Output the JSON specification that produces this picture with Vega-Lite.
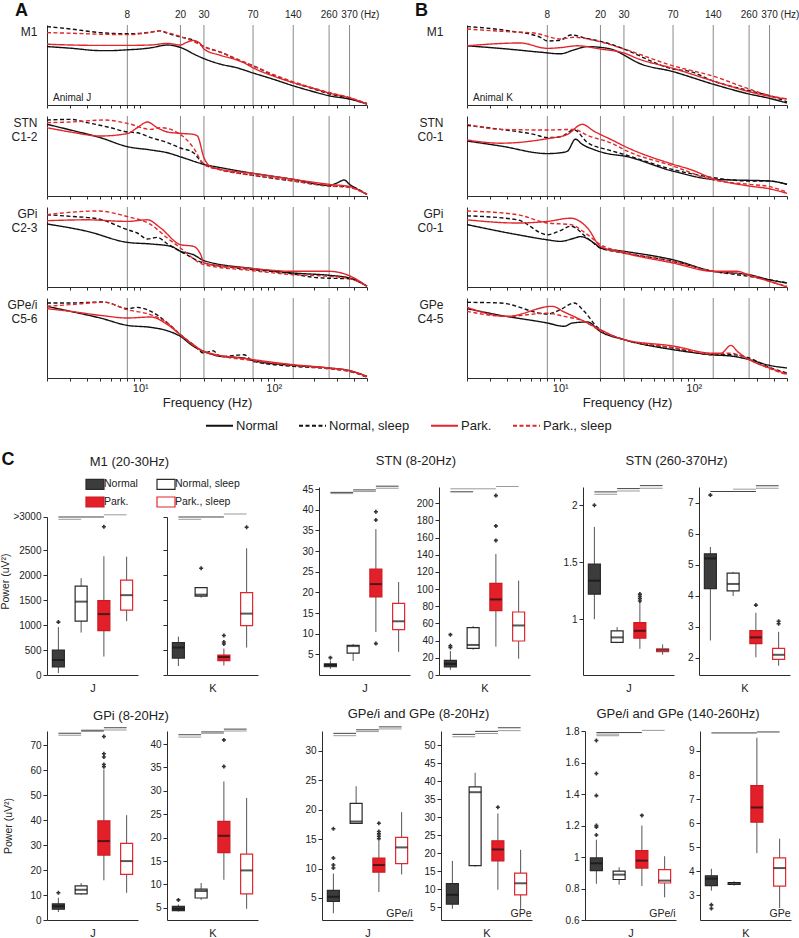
{
"$schema":"https://vega.github.io/schema/vega-lite/v6.json",
"padding":{"left":0,"top":2,"right":0,"bottom":0},
"config":{"font":"Liberation Sans","view":{"stroke":null},"axis":{"domainColor":"#2b2b2b","tickColor":"#2b2b2b","labelColor":"#222","titleColor":"#222","grid":false,"titleFontWeight":"normal","labelOverlap":false},"axisY":{"labelOverlap":false},"title":{"fontWeight":"normal","color":"#222"},"legend":{"labelColor":"#222"}},
"datasets":{
"vl":[{"f":8,"t":"8"},{"f":20,"t":"20"},{"f":30,"t":"30"},{"f":70,"t":"70"},{"f":140,"t":"140"},{"f":260,"t":"260"},{"f":370,"t":"370"}],
"spec":[
{"p":"J1","s":"N","f":2,"v":73},{"p":"J1","s":"N","f":3,"v":71},{"p":"J1","s":"N","f":5,"v":68},{"p":"J1","s":"N","f":6,"v":68},{"p":"J1","s":"N","f":8,"v":69},{"p":"J1","s":"N","f":10,"v":70},{"p":"J1","s":"N","f":12,"v":71.5},{"p":"J1","s":"N","f":16,"v":75},{"p":"J1","s":"N","f":18,"v":74},{"p":"J1","s":"N","f":20,"v":72},{"p":"J1","s":"N","f":22,"v":69},{"p":"J1","s":"N","f":25,"v":64},{"p":"J1","s":"N","f":30,"v":58},{"p":"J1","s":"N","f":40,"v":51},{"p":"J1","s":"N","f":53,"v":46.5},{"p":"J1","s":"N","f":70,"v":40},{"p":"J1","s":"N","f":100,"v":32},{"p":"J1","s":"N","f":140,"v":24},{"p":"J1","s":"N","f":200,"v":16.5},{"p":"J1","s":"N","f":260,"v":11.5},{"p":"J1","s":"N","f":370,"v":7.4},{"p":"J1","s":"N","f":500,"v":1.2},
{"p":"J1","s":"NS","f":2,"v":98},{"p":"J1","s":"NS","f":3,"v":95},{"p":"J1","s":"NS","f":5,"v":90.5},{"p":"J1","s":"NS","f":8,"v":89},{"p":"J1","s":"NS","f":12,"v":91},{"p":"J1","s":"NS","f":14,"v":92.6},{"p":"J1","s":"NS","f":16,"v":89.7},{"p":"J1","s":"NS","f":20,"v":85},{"p":"J1","s":"NS","f":25,"v":81},{"p":"J1","s":"NS","f":30,"v":73},{"p":"J1","s":"NS","f":40,"v":66},{"p":"J1","s":"NS","f":53,"v":57},{"p":"J1","s":"NS","f":70,"v":49},{"p":"J1","s":"NS","f":100,"v":37},{"p":"J1","s":"NS","f":140,"v":28},{"p":"J1","s":"NS","f":200,"v":20},{"p":"J1","s":"NS","f":260,"v":14},{"p":"J1","s":"NS","f":370,"v":8},{"p":"J1","s":"NS","f":500,"v":2},
{"p":"J1","s":"P","f":2,"v":76},{"p":"J1","s":"P","f":3,"v":75},{"p":"J1","s":"P","f":5,"v":74.5},{"p":"J1","s":"P","f":8,"v":74.5},{"p":"J1","s":"P","f":12,"v":75},{"p":"J1","s":"P","f":16,"v":77},{"p":"J1","s":"P","f":20,"v":75},{"p":"J1","s":"P","f":22,"v":78},{"p":"J1","s":"P","f":25,"v":80.6},{"p":"J1","s":"P","f":28,"v":77},{"p":"J1","s":"P","f":30,"v":70},{"p":"J1","s":"P","f":40,"v":62},{"p":"J1","s":"P","f":50,"v":57.6},{"p":"J1","s":"P","f":60,"v":52.7},{"p":"J1","s":"P","f":70,"v":46.5},{"p":"J1","s":"P","f":100,"v":36},{"p":"J1","s":"P","f":140,"v":28},{"p":"J1","s":"P","f":200,"v":20.6},{"p":"J1","s":"P","f":260,"v":15},{"p":"J1","s":"P","f":370,"v":9},{"p":"J1","s":"P","f":500,"v":1},
{"p":"J1","s":"PS","f":2,"v":90.5},{"p":"J1","s":"PS","f":3,"v":89.7},{"p":"J1","s":"PS","f":5,"v":88.5},{"p":"J1","s":"PS","f":8,"v":88},{"p":"J1","s":"PS","f":12,"v":91},{"p":"J1","s":"PS","f":14,"v":93},{"p":"J1","s":"PS","f":16,"v":90.5},{"p":"J1","s":"PS","f":20,"v":85.6},{"p":"J1","s":"PS","f":25,"v":79.4},{"p":"J1","s":"PS","f":30,"v":73},{"p":"J1","s":"PS","f":40,"v":66},{"p":"J1","s":"PS","f":53,"v":57.6},{"p":"J1","s":"PS","f":70,"v":49},{"p":"J1","s":"PS","f":100,"v":38},{"p":"J1","s":"PS","f":140,"v":29},{"p":"J1","s":"PS","f":200,"v":21},{"p":"J1","s":"PS","f":260,"v":15.6},{"p":"J1","s":"PS","f":370,"v":9.5},{"p":"J1","s":"PS","f":500,"v":1.6},
{"p":"J2","s":"N","f":2,"v":89.6},{"p":"J2","s":"N","f":3,"v":82.5},{"p":"J2","s":"N","f":5,"v":73},{"p":"J2","s":"N","f":8,"v":61.7},{"p":"J2","s":"N","f":12,"v":57.5},{"p":"J2","s":"N","f":16,"v":54},{"p":"J2","s":"N","f":20,"v":49},{"p":"J2","s":"N","f":30,"v":39.6},{"p":"J2","s":"N","f":40,"v":35.4},{"p":"J2","s":"N","f":70,"v":28.3},{"p":"J2","s":"N","f":140,"v":20.8},{"p":"J2","s":"N","f":260,"v":13.3},{"p":"J2","s":"N","f":300,"v":16.5},{"p":"J2","s":"N","f":337,"v":20},{"p":"J2","s":"N","f":370,"v":14.6},{"p":"J2","s":"N","f":425,"v":8.3},{"p":"J2","s":"N","f":500,"v":2},
{"p":"J2","s":"NS","f":2,"v":95},{"p":"J2","s":"NS","f":3,"v":95.8},{"p":"J2","s":"NS","f":4,"v":91.7},{"p":"J2","s":"NS","f":6,"v":85.4},{"p":"J2","s":"NS","f":8,"v":80},{"p":"J2","s":"NS","f":9.5,"v":79},{"p":"J2","s":"NS","f":12,"v":73},{"p":"J2","s":"NS","f":16,"v":66.7},{"p":"J2","s":"NS","f":20,"v":60},{"p":"J2","s":"NS","f":25,"v":54},{"p":"J2","s":"NS","f":30,"v":39.6},{"p":"J2","s":"NS","f":40,"v":33},{"p":"J2","s":"NS","f":70,"v":25.8},{"p":"J2","s":"NS","f":140,"v":18.75},{"p":"J2","s":"NS","f":260,"v":12.5},{"p":"J2","s":"NS","f":370,"v":11.7},{"p":"J2","s":"NS","f":500,"v":2},
{"p":"J2","s":"P","f":2,"v":85.4},{"p":"J2","s":"P","f":3,"v":80},{"p":"J2","s":"P","f":5,"v":75},{"p":"J2","s":"P","f":8,"v":78},{"p":"J2","s":"P","f":9.5,"v":85.4},{"p":"J2","s":"P","f":11.3,"v":92.5},{"p":"J2","s":"P","f":13.4,"v":85.4},{"p":"J2","s":"P","f":16,"v":80},{"p":"J2","s":"P","f":20,"v":78.3},{"p":"J2","s":"P","f":25,"v":77},{"p":"J2","s":"P","f":26.8,"v":75},{"p":"J2","s":"P","f":30,"v":48},{"p":"J2","s":"P","f":33.7,"v":36.7},{"p":"J2","s":"P","f":40,"v":33.3},{"p":"J2","s":"P","f":70,"v":28.3},{"p":"J2","s":"P","f":140,"v":20.8},{"p":"J2","s":"P","f":260,"v":14.6},{"p":"J2","s":"P","f":370,"v":11.7},{"p":"J2","s":"P","f":500,"v":2},
{"p":"J2","s":"PS","f":2,"v":91.7},{"p":"J2","s":"PS","f":3,"v":92.5},{"p":"J2","s":"PS","f":5.35,"v":95},{"p":"J2","s":"PS","f":8,"v":90.8},{"p":"J2","s":"PS","f":12,"v":83.3},{"p":"J2","s":"PS","f":14.2,"v":85.4},{"p":"J2","s":"PS","f":20,"v":77},{"p":"J2","s":"PS","f":25,"v":60.4},{"p":"J2","s":"PS","f":30,"v":39.6},{"p":"J2","s":"PS","f":40,"v":32.5},{"p":"J2","s":"PS","f":70,"v":25.8},{"p":"J2","s":"PS","f":140,"v":18.75},{"p":"J2","s":"PS","f":260,"v":12.5},{"p":"J2","s":"PS","f":370,"v":10.4},{"p":"J2","s":"PS","f":500,"v":2},
{"p":"J3","s":"N","f":2,"v":78.75},{"p":"J3","s":"N","f":4,"v":69.6},{"p":"J3","s":"N","f":8,"v":55.8},{"p":"J3","s":"N","f":12,"v":53.75},{"p":"J3","s":"N","f":17,"v":50.8},{"p":"J3","s":"N","f":20,"v":44.6},{"p":"J3","s":"N","f":25,"v":40.4},{"p":"J3","s":"N","f":30,"v":33},{"p":"J3","s":"N","f":70,"v":23},{"p":"J3","s":"N","f":140,"v":17.5},{"p":"J3","s":"N","f":260,"v":14.6},{"p":"J3","s":"N","f":370,"v":11.25},{"p":"J3","s":"N","f":500,"v":1},
{"p":"J3","s":"NS","f":2,"v":90.4},{"p":"J3","s":"NS","f":3,"v":88.3},{"p":"J3","s":"NS","f":4.77,"v":85.4},{"p":"J3","s":"NS","f":8,"v":71.7},{"p":"J3","s":"NS","f":9.5,"v":67.5},{"p":"J3","s":"NS","f":11.3,"v":60},{"p":"J3","s":"NS","f":13.4,"v":62},{"p":"J3","s":"NS","f":16,"v":53.75},{"p":"J3","s":"NS","f":20,"v":44.6},{"p":"J3","s":"NS","f":30,"v":30},{"p":"J3","s":"NS","f":70,"v":21.7},{"p":"J3","s":"NS","f":140,"v":16.25},{"p":"J3","s":"NS","f":200,"v":12},{"p":"J3","s":"NS","f":260,"v":11},{"p":"J3","s":"NS","f":370,"v":10.4},{"p":"J3","s":"NS","f":500,"v":1},
{"p":"J3","s":"P","f":2,"v":82.9},{"p":"J3","s":"P","f":4,"v":84},{"p":"J3","s":"P","f":8,"v":82},{"p":"J3","s":"P","f":11.3,"v":84},{"p":"J3","s":"P","f":14.2,"v":73.75},{"p":"J3","s":"P","f":20,"v":52.9},{"p":"J3","s":"P","f":25,"v":50.8},{"p":"J3","s":"P","f":28.4,"v":40.4},{"p":"J3","s":"P","f":30,"v":30},{"p":"J3","s":"P","f":70,"v":23},{"p":"J3","s":"P","f":140,"v":19.6},{"p":"J3","s":"P","f":260,"v":19.6},{"p":"J3","s":"P","f":370,"v":14},{"p":"J3","s":"P","f":500,"v":1},
{"p":"J3","s":"PS","f":2,"v":90.4},{"p":"J3","s":"PS","f":4.77,"v":95},{"p":"J3","s":"PS","f":8,"v":88},{"p":"J3","s":"PS","f":12,"v":78},{"p":"J3","s":"PS","f":16,"v":61},{"p":"J3","s":"PS","f":20,"v":48.75},{"p":"J3","s":"PS","f":30,"v":28},{"p":"J3","s":"PS","f":70,"v":20.4},{"p":"J3","s":"PS","f":140,"v":15.4},{"p":"J3","s":"PS","f":260,"v":13.3},{"p":"J3","s":"PS","f":370,"v":10.4},{"p":"J3","s":"PS","f":500,"v":1},
{"p":"J4","s":"N","f":2,"v":89.6},{"p":"J4","s":"N","f":3,"v":83.3},{"p":"J4","s":"N","f":5,"v":75},{"p":"J4","s":"N","f":8,"v":65.8},{"p":"J4","s":"N","f":12,"v":63.3},{"p":"J4","s":"N","f":16,"v":59},{"p":"J4","s":"N","f":20,"v":52},{"p":"J4","s":"N","f":25,"v":39.6},{"p":"J4","s":"N","f":30,"v":33.3},{"p":"J4","s":"N","f":40,"v":27},{"p":"J4","s":"N","f":60,"v":25},{"p":"J4","s":"N","f":70,"v":21.7},{"p":"J4","s":"N","f":140,"v":15.8},{"p":"J4","s":"N","f":260,"v":12.5},{"p":"J4","s":"N","f":370,"v":9.2},{"p":"J4","s":"N","f":500,"v":2},
{"p":"J4","s":"NS","f":2,"v":93.75},{"p":"J4","s":"NS","f":3,"v":93.75},{"p":"J4","s":"NS","f":5.35,"v":95},{"p":"J4","s":"NS","f":8,"v":86.7},{"p":"J4","s":"NS","f":9.5,"v":88.3},{"p":"J4","s":"NS","f":12,"v":83.3},{"p":"J4","s":"NS","f":16,"v":68.75},{"p":"J4","s":"NS","f":20,"v":54},{"p":"J4","s":"NS","f":25,"v":41.7},{"p":"J4","s":"NS","f":30,"v":31.25},{"p":"J4","s":"NS","f":35,"v":34},{"p":"J4","s":"NS","f":40,"v":27},{"p":"J4","s":"NS","f":60,"v":29},{"p":"J4","s":"NS","f":70,"v":20.8},{"p":"J4","s":"NS","f":140,"v":14.6},{"p":"J4","s":"NS","f":260,"v":11.7},{"p":"J4","s":"NS","f":370,"v":8.3},{"p":"J4","s":"NS","f":500,"v":1},
{"p":"J4","s":"P","f":2,"v":86.7},{"p":"J4","s":"P","f":3,"v":83.3},{"p":"J4","s":"P","f":5,"v":78.3},{"p":"J4","s":"P","f":8,"v":75},{"p":"J4","s":"P","f":12,"v":76.25},{"p":"J4","s":"P","f":16,"v":66.7},{"p":"J4","s":"P","f":20,"v":54},{"p":"J4","s":"P","f":25,"v":41.7},{"p":"J4","s":"P","f":30,"v":33.3},{"p":"J4","s":"P","f":70,"v":23},{"p":"J4","s":"P","f":140,"v":16.7},{"p":"J4","s":"P","f":260,"v":12.5},{"p":"J4","s":"P","f":370,"v":9.2},{"p":"J4","s":"P","f":500,"v":2},
{"p":"J4","s":"PS","f":2,"v":89.6},{"p":"J4","s":"PS","f":3,"v":91.7},{"p":"J4","s":"PS","f":5.35,"v":94.6},{"p":"J4","s":"PS","f":8,"v":85.4},{"p":"J4","s":"PS","f":12,"v":79},{"p":"J4","s":"PS","f":16,"v":68.75},{"p":"J4","s":"PS","f":20,"v":54},{"p":"J4","s":"PS","f":25,"v":40.8},{"p":"J4","s":"PS","f":30,"v":32.5},{"p":"J4","s":"PS","f":70,"v":21.7},{"p":"J4","s":"PS","f":140,"v":15.8},{"p":"J4","s":"PS","f":260,"v":11.7},{"p":"J4","s":"PS","f":370,"v":8.3},{"p":"J4","s":"PS","f":500,"v":1.2},
{"p":"K1","s":"N","f":2,"v":74},{"p":"K1","s":"N","f":4,"v":70},{"p":"K1","s":"N","f":7.1,"v":66},{"p":"K1","s":"N","f":10,"v":64},{"p":"K1","s":"N","f":12.7,"v":69},{"p":"K1","s":"N","f":16,"v":73},{"p":"K1","s":"N","f":20,"v":72},{"p":"K1","s":"N","f":25,"v":69},{"p":"K1","s":"N","f":30,"v":62.5},{"p":"K1","s":"N","f":38,"v":53},{"p":"K1","s":"N","f":70,"v":41.7},{"p":"K1","s":"N","f":140,"v":26},{"p":"K1","s":"N","f":260,"v":13.75},{"p":"K1","s":"N","f":370,"v":8.3},{"p":"K1","s":"N","f":500,"v":2.5},
{"p":"K1","s":"NS","f":2,"v":98},{"p":"K1","s":"NS","f":4,"v":93},{"p":"K1","s":"NS","f":7.1,"v":84.6},{"p":"K1","s":"NS","f":8,"v":80},{"p":"K1","s":"NS","f":10,"v":81},{"p":"K1","s":"NS","f":12,"v":87.5},{"p":"K1","s":"NS","f":16,"v":83},{"p":"K1","s":"NS","f":20,"v":79.6},{"p":"K1","s":"NS","f":25,"v":75},{"p":"K1","s":"NS","f":30,"v":70},{"p":"K1","s":"NS","f":70,"v":45},{"p":"K1","s":"NS","f":95,"v":41.7},{"p":"K1","s":"NS","f":140,"v":30},{"p":"K1","s":"NS","f":260,"v":18},{"p":"K1","s":"NS","f":370,"v":11.7},{"p":"K1","s":"NS","f":500,"v":4},
{"p":"K1","s":"P","f":2,"v":74},{"p":"K1","s":"P","f":5,"v":77.5},{"p":"K1","s":"P","f":8,"v":70.8},{"p":"K1","s":"P","f":10,"v":71.7},{"p":"K1","s":"P","f":13.4,"v":74},{"p":"K1","s":"P","f":20,"v":70},{"p":"K1","s":"P","f":30,"v":65},{"p":"K1","s":"P","f":38,"v":58},{"p":"K1","s":"P","f":70,"v":45.8},{"p":"K1","s":"P","f":140,"v":30},{"p":"K1","s":"P","f":260,"v":16.7},{"p":"K1","s":"P","f":370,"v":10.8},{"p":"K1","s":"P","f":500,"v":7.5},
{"p":"K1","s":"PS","f":2,"v":95},{"p":"K1","s":"PS","f":4,"v":91.7},{"p":"K1","s":"PS","f":6.35,"v":90},{"p":"K1","s":"PS","f":10,"v":82.5},{"p":"K1","s":"PS","f":12.7,"v":84.6},{"p":"K1","s":"PS","f":20,"v":79},{"p":"K1","s":"PS","f":30,"v":70},{"p":"K1","s":"PS","f":70,"v":49},{"p":"K1","s":"PS","f":140,"v":36},{"p":"K1","s":"PS","f":260,"v":20},{"p":"K1","s":"PS","f":370,"v":11.7},{"p":"K1","s":"PS","f":500,"v":7.5},
{"p":"K2","s":"N","f":2,"v":68.75},{"p":"K2","s":"N","f":3.57,"v":62.5},{"p":"K2","s":"N","f":8,"v":53},{"p":"K2","s":"N","f":10,"v":54},{"p":"K2","s":"N","f":11.3,"v":56},{"p":"K2","s":"N","f":13,"v":71},{"p":"K2","s":"N","f":14.6,"v":64.6},{"p":"K2","s":"N","f":17.9,"v":58},{"p":"K2","s":"N","f":22.5,"v":53},{"p":"K2","s":"N","f":30,"v":50},{"p":"K2","s":"N","f":70,"v":31},{"p":"K2","s":"N","f":140,"v":20.8},{"p":"K2","s":"N","f":200,"v":20},{"p":"K2","s":"N","f":370,"v":18.75},{"p":"K2","s":"N","f":500,"v":14.6},
{"p":"K2","s":"NS","f":2,"v":88.3},{"p":"K2","s":"NS","f":3.57,"v":83.3},{"p":"K2","s":"NS","f":6.35,"v":77},{"p":"K2","s":"NS","f":8,"v":73},{"p":"K2","s":"NS","f":10,"v":74},{"p":"K2","s":"NS","f":12.7,"v":82.5},{"p":"K2","s":"NS","f":16,"v":66.7},{"p":"K2","s":"NS","f":22.5,"v":58},{"p":"K2","s":"NS","f":30,"v":52},{"p":"K2","s":"NS","f":70,"v":33},{"p":"K2","s":"NS","f":140,"v":23},{"p":"K2","s":"NS","f":260,"v":18.75},{"p":"K2","s":"NS","f":370,"v":18.75},{"p":"K2","s":"NS","f":500,"v":14.6},
{"p":"K2","s":"P","f":2,"v":70},{"p":"K2","s":"P","f":3.57,"v":66},{"p":"K2","s":"P","f":8,"v":71.7},{"p":"K2","s":"P","f":11.3,"v":77},{"p":"K2","s":"P","f":14.6,"v":89.6},{"p":"K2","s":"P","f":17.9,"v":81},{"p":"K2","s":"P","f":25.3,"v":68.75},{"p":"K2","s":"P","f":30,"v":62.5},{"p":"K2","s":"P","f":70,"v":39.6},{"p":"K2","s":"P","f":95,"v":33},{"p":"K2","s":"P","f":140,"v":21.7},{"p":"K2","s":"P","f":260,"v":12.5},{"p":"K2","s":"P","f":370,"v":9},{"p":"K2","s":"P","f":500,"v":3.3},
{"p":"K2","s":"PS","f":2,"v":89.6},{"p":"K2","s":"PS","f":3.57,"v":83.3},{"p":"K2","s":"PS","f":8,"v":82.5},{"p":"K2","s":"PS","f":12.7,"v":83.3},{"p":"K2","s":"PS","f":16,"v":75.8},{"p":"K2","s":"PS","f":25.3,"v":64.6},{"p":"K2","s":"PS","f":30,"v":58},{"p":"K2","s":"PS","f":70,"v":37.5},{"p":"K2","s":"PS","f":140,"v":20},{"p":"K2","s":"PS","f":260,"v":14.6},{"p":"K2","s":"PS","f":370,"v":11.7},{"p":"K2","s":"PS","f":500,"v":5},
{"p":"K3","s":"N","f":2,"v":78},{"p":"K3","s":"N","f":4.77,"v":65.4},{"p":"K3","s":"N","f":8,"v":59},{"p":"K3","s":"N","f":10,"v":57},{"p":"K3","s":"N","f":12.7,"v":61},{"p":"K3","s":"N","f":14.2,"v":63},{"p":"K3","s":"N","f":17.9,"v":55},{"p":"K3","s":"N","f":20,"v":48.75},{"p":"K3","s":"N","f":30,"v":44.6},{"p":"K3","s":"N","f":70,"v":34},{"p":"K3","s":"N","f":140,"v":19.6},{"p":"K3","s":"N","f":260,"v":15.4},{"p":"K3","s":"N","f":370,"v":9},{"p":"K3","s":"N","f":500,"v":5},
{"p":"K3","s":"NS","f":2,"v":89},{"p":"K3","s":"NS","f":4.77,"v":84},{"p":"K3","s":"NS","f":8,"v":65.4},{"p":"K3","s":"NS","f":10,"v":70.4},{"p":"K3","s":"NS","f":12,"v":76},{"p":"K3","s":"NS","f":16,"v":61},{"p":"K3","s":"NS","f":20,"v":48.75},{"p":"K3","s":"NS","f":30,"v":42.5},{"p":"K3","s":"NS","f":70,"v":32},{"p":"K3","s":"NS","f":140,"v":19.6},{"p":"K3","s":"NS","f":260,"v":13.3},{"p":"K3","s":"NS","f":370,"v":9},{"p":"K3","s":"NS","f":500,"v":5},
{"p":"K3","s":"P","f":2,"v":84},{"p":"K3","s":"P","f":4.77,"v":80},{"p":"K3","s":"P","f":8,"v":82},{"p":"K3","s":"P","f":12,"v":86},{"p":"K3","s":"P","f":16,"v":73.75},{"p":"K3","s":"P","f":20,"v":50.8},{"p":"K3","s":"P","f":30,"v":42.5},{"p":"K3","s":"P","f":70,"v":30},{"p":"K3","s":"P","f":140,"v":19.6},{"p":"K3","s":"P","f":213,"v":19.6},{"p":"K3","s":"P","f":260,"v":14.6},{"p":"K3","s":"P","f":370,"v":7},{"p":"K3","s":"P","f":500,"v":0},
{"p":"K3","s":"PS","f":2,"v":95},{"p":"K3","s":"PS","f":4.77,"v":90.4},{"p":"K3","s":"PS","f":8,"v":80},{"p":"K3","s":"PS","f":12,"v":78},{"p":"K3","s":"PS","f":16,"v":65.4},{"p":"K3","s":"PS","f":20,"v":53},{"p":"K3","s":"PS","f":30,"v":43.75},{"p":"K3","s":"PS","f":70,"v":32},{"p":"K3","s":"PS","f":140,"v":19.6},{"p":"K3","s":"PS","f":260,"v":15.4},{"p":"K3","s":"PS","f":370,"v":7},{"p":"K3","s":"PS","f":500,"v":1},
{"p":"K4","s":"N","f":2,"v":86.7},{"p":"K4","s":"N","f":3.57,"v":78.3},{"p":"K4","s":"N","f":8,"v":68.75},{"p":"K4","s":"N","f":10.7,"v":64.6},{"p":"K4","s":"N","f":12.3,"v":68.75},{"p":"K4","s":"N","f":16,"v":70},{"p":"K4","s":"N","f":20,"v":58},{"p":"K4","s":"N","f":30,"v":48},{"p":"K4","s":"N","f":70,"v":35.4},{"p":"K4","s":"N","f":140,"v":29},{"p":"K4","s":"N","f":200,"v":27},{"p":"K4","s":"N","f":260,"v":23},{"p":"K4","s":"N","f":370,"v":15.8},{"p":"K4","s":"N","f":500,"v":12.5},
{"p":"K4","s":"NS","f":2,"v":94.6},{"p":"K4","s":"NS","f":3.57,"v":93.75},{"p":"K4","s":"NS","f":8,"v":80},{"p":"K4","s":"NS","f":10,"v":85.4},{"p":"K4","s":"NS","f":12.7,"v":93.75},{"p":"K4","s":"NS","f":15.1,"v":83.3},{"p":"K4","s":"NS","f":19,"v":63.3},{"p":"K4","s":"NS","f":30,"v":48},{"p":"K4","s":"NS","f":70,"v":37.5},{"p":"K4","s":"NS","f":140,"v":29},{"p":"K4","s":"NS","f":200,"v":29},{"p":"K4","s":"NS","f":260,"v":25},{"p":"K4","s":"NS","f":370,"v":13.3},{"p":"K4","s":"NS","f":500,"v":6.25},
{"p":"K4","s":"P","f":2,"v":88.3},{"p":"K4","s":"P","f":4,"v":77},{"p":"K4","s":"P","f":8.7,"v":89.6},{"p":"K4","s":"P","f":10.7,"v":82.5},{"p":"K4","s":"P","f":15.1,"v":70.8},{"p":"K4","s":"P","f":20,"v":60.4},{"p":"K4","s":"P","f":30,"v":48},{"p":"K4","s":"P","f":70,"v":40},{"p":"K4","s":"P","f":140,"v":31},{"p":"K4","s":"P","f":160,"v":31},{"p":"K4","s":"P","f":190,"v":40.8},{"p":"K4","s":"P","f":213,"v":33},{"p":"K4","s":"P","f":260,"v":23},{"p":"K4","s":"P","f":370,"v":12.5},{"p":"K4","s":"P","f":500,"v":5},
{"p":"K4","s":"PS","f":2,"v":83.3},{"p":"K4","s":"PS","f":4,"v":77},{"p":"K4","s":"PS","f":8,"v":81},{"p":"K4","s":"PS","f":10.7,"v":77},{"p":"K4","s":"PS","f":15.1,"v":70.8},{"p":"K4","s":"PS","f":20,"v":59},{"p":"K4","s":"PS","f":30,"v":48},{"p":"K4","s":"PS","f":70,"v":38},{"p":"K4","s":"PS","f":140,"v":30},{"p":"K4","s":"PS","f":190,"v":31},{"p":"K4","s":"PS","f":260,"v":23},{"p":"K4","s":"PS","f":370,"v":11.7},{"p":"K4","s":"PS","f":500,"v":4.2}
],
"box":[
{"p":"M1J","g":"n","lo":40,"q1":160,"md":300,"q3":500,"hi":960},{"p":"M1J","g":"ns","lo":850,"q1":1080,"md":1470,"q3":1780,"hi":1940},{"p":"M1J","g":"p","lo":370,"q1":890,"md":1220,"q3":1490,"hi":2380},{"p":"M1J","g":"ps","lo":1080,"q1":1300,"md":1600,"q3":1900,"hi":2370},
{"p":"M1K","g":"n","lo":180,"q1":340,"md":550,"q3":650,"hi":770},{"p":"M1K","g":"ns","lo":1550,"q1":1580,"md":1610,"q3":1750,"hi":1760},{"p":"M1K","g":"p","lo":190,"q1":290,"md":360,"q3":400,"hi":530},{"p":"M1K","g":"ps","lo":550,"q1":990,"md":1230,"q3":1650,"hi":2540},
{"p":"S1J","g":"n","lo":1.5,"q1":2,"md":2.4,"q3":2.7,"hi":3.5},{"p":"S1J","g":"ns","lo":3.4,"q1":5.3,"md":7,"q3":7.2,"hi":7.5},{"p":"S1J","g":"p","lo":10.4,"q1":18.9,"md":22,"q3":25.6,"hi":35.3},{"p":"S1J","g":"ps","lo":5.6,"q1":11,"md":13,"q3":17.35,"hi":22.5},
{"p":"S1K","g":"n","lo":6,"q1":9.5,"md":13,"q3":17,"hi":28},{"p":"S1K","g":"ns","lo":29.4,"q1":31,"md":35,"q3":55.3,"hi":57},{"p":"S1K","g":"p","lo":33,"q1":75,"md":88,"q3":106.8,"hi":141},{"p":"S1K","g":"ps","lo":19,"q1":39.6,"md":57.7,"q3":73.4,"hi":110},
{"p":"S2J","g":"n","lo":1,"q1":1.22,"md":1.338,"q3":1.484,"hi":1.81},{"p":"S2J","g":"ns","lo":0.79,"q1":0.796,"md":0.84,"q3":0.898,"hi":0.93},{"p":"S2J","g":"p","lo":0.74,"q1":0.834,"md":0.898,"q3":0.97,"hi":1.155},{"p":"S2J","g":"ps","lo":0.688,"q1":0.715,"md":0.729,"q3":0.74,"hi":0.778},
{"p":"S2K","g":"n","lo":2.56,"q1":4.23,"md":5.2,"q3":5.35,"hi":5.57},{"p":"S2K","g":"ns","lo":3.99,"q1":4.16,"md":4.38,"q3":4.73,"hi":4.77},{"p":"S2K","g":"p","lo":2.02,"q1":2.46,"md":2.66,"q3":2.88,"hi":3.45},{"p":"S2K","g":"ps","lo":1.75,"q1":1.95,"md":2.1,"q3":2.31,"hi":2.84},
{"p":"G1J","g":"n","lo":3.2,"q1":4.3,"md":5.5,"q3":6.46,"hi":8.9},{"p":"G1J","g":"ns","lo":10.2,"q1":10.5,"md":12.1,"q3":13.7,"hi":14.8},{"p":"G1J","g":"p","lo":15.9,"q1":26,"md":31.6,"q3":39.7,"hi":60.3},{"p":"G1J","g":"ps","lo":10.9,"q1":18.3,"md":23.6,"q3":30.7,"hi":42},
{"p":"G1K","g":"n","lo":4.2,"q1":4.4,"md":4.8,"q3":5.3,"hi":5.7},{"p":"G1K","g":"ns","lo":6.7,"q1":7.1,"md":8.6,"q3":9,"hi":10.3},{"p":"G1K","g":"p","lo":11,"q1":16.8,"md":20.4,"q3":23.5,"hi":32},{"p":"G1K","g":"ps","lo":4.8,"q1":8,"md":13,"q3":16.5,"hi":28.5},
{"p":"E1J","g":"n","lo":2.4,"q1":4.4,"md":5.2,"q3":6.3,"hi":9.15},{"p":"E1J","g":"ns","lo":17.6,"q1":17.7,"md":18,"q3":21.1,"hi":24},{"p":"E1J","g":"p","lo":6,"q1":9.4,"md":10.6,"q3":11.8,"hi":14.8},{"p":"E1J","g":"ps","lo":9,"q1":10.85,"md":13.6,"q3":15.3,"hi":19.6},
{"p":"E1K","g":"n","lo":4.5,"q1":5.8,"md":8.4,"q3":11.5,"hi":17.8},{"p":"E1K","g":"ns","lo":16.2,"q1":16.5,"md":36.9,"q3":38.4,"hi":42.3},{"p":"E1K","g":"p","lo":9.8,"q1":17.8,"md":21,"q3":23.4,"hi":31},{"p":"E1K","g":"ps","lo":4.5,"q1":8.4,"md":11.6,"q3":14.4,"hi":20.9},
{"p":"E2J","g":"n","lo":0.83,"q1":0.914,"md":0.96,"q3":0.994,"hi":1.11},{"p":"E2J","g":"ns","lo":0.825,"q1":0.857,"md":0.888,"q3":0.91,"hi":0.935},{"p":"E2J","g":"p","lo":0.816,"q1":0.93,"md":0.977,"q3":1.04,"hi":1.2},{"p":"E2J","g":"ps","lo":0.744,"q1":0.835,"md":0.85,"q3":0.92,"hi":1.005},
{"p":"E2K","g":"n","lo":3.19,"q1":3.4,"md":3.69,"q3":3.81,"hi":4.1},{"p":"E2K","g":"ns","lo":3.4,"q1":3.45,"md":3.5,"q3":3.53,"hi":3.58},{"p":"E2K","g":"p","lo":4.75,"q1":6.04,"md":6.65,"q3":7.56,"hi":9.55},{"p":"E2K","g":"ps","lo":2.47,"q1":3.38,"md":4.13,"q3":4.55,"hi":5.35}
],
"out":[
{"p":"M1J","g":"n","v":1060},{"p":"M1J","g":"p","v":2970},
{"p":"M1K","g":"ns","v":2140},{"p":"M1K","g":"p","v":620},{"p":"M1K","g":"p","v":660},{"p":"M1K","g":"p","v":790},{"p":"M1K","g":"ps","v":2960},
{"p":"S1J","g":"n","v":4.2},{"p":"S1J","g":"p","v":37.5},{"p":"S1J","g":"p","v":39.5},{"p":"S1J","g":"p","v":7.6},
{"p":"S1K","g":"n","v":32},{"p":"S1K","g":"n","v":34},{"p":"S1K","g":"n","v":47},{"p":"S1K","g":"p","v":156.8},{"p":"S1K","g":"p","v":173.7},{"p":"S1K","g":"p","v":209},
{"p":"S2J","g":"n","v":2},{"p":"S2J","g":"p","v":1.16},{"p":"S2J","g":"p","v":1.18},{"p":"S2J","g":"p","v":1.2},{"p":"S2J","g":"p","v":1.22},
{"p":"S2K","g":"n","v":7.24},{"p":"S2K","g":"p","v":3.7},{"p":"S2K","g":"ps","v":3.1},{"p":"S2K","g":"ps","v":3.18},
{"p":"G1J","g":"n","v":10.9},{"p":"G1J","g":"p","v":61.4},{"p":"G1J","g":"p","v":62.3},{"p":"G1J","g":"p","v":65.3},{"p":"G1J","g":"p","v":66.6},{"p":"G1J","g":"p","v":73.5},
{"p":"G1K","g":"n","v":6.7},{"p":"G1K","g":"p","v":35.2},{"p":"G1K","g":"p","v":40.9},
{"p":"E1J","g":"n","v":10.1},{"p":"E1J","g":"n","v":10.6},{"p":"E1J","g":"n","v":11.8},{"p":"E1J","g":"n","v":16.76},{"p":"E1J","g":"p","v":15.1},{"p":"E1J","g":"p","v":15.5},{"p":"E1J","g":"p","v":15.9},{"p":"E1J","g":"p","v":16.3},{"p":"E1J","g":"p","v":17.7},
{"p":"E1K","g":"p","v":32.7},
{"p":"E2J","g":"n","v":1.14},{"p":"E2J","g":"n","v":1.19},{"p":"E2J","g":"n","v":1.2},{"p":"E2J","g":"n","v":1.39},{"p":"E2J","g":"n","v":1.53},{"p":"E2J","g":"n","v":1.74},{"p":"E2J","g":"p","v":1.264},
{"p":"E2K","g":"n","v":2.6},{"p":"E2K","g":"n","v":2.45}
],
"sig":[
{"p":"M1J","a":"n","b":"p","y":3166,"c":"k"},{"p":"M1J","a":"n","b":"ns","y":3120,"c":"g"},{"p":"M1J","a":"p","b":"ps","y":3210,"c":"g"},
{"p":"M1K","a":"n","b":"p","y":3166,"c":"k"},{"p":"M1K","a":"n","b":"ns","y":3120,"c":"g"},{"p":"M1K","a":"p","b":"ps","y":3226,"c":"g"},
{"p":"S1J","a":"n","b":"ns","y":43.9,"c":"g"},{"p":"S1J","a":"n","b":"ns","y":44.2,"c":"k"},{"p":"S1J","a":"ns","b":"p","y":44.4,"c":"g"},{"p":"S1J","a":"ns","b":"p","y":44.8,"c":"k"},{"p":"S1J","a":"p","b":"ps","y":45.2,"c":"g"},{"p":"S1J","a":"p","b":"ps","y":45.7,"c":"k"},
{"p":"S1K","a":"n","b":"ns","y":213.4,"c":"k"},{"p":"S1K","a":"n","b":"p","y":216.9,"c":"g"},{"p":"S1K","a":"p","b":"ps","y":219.6,"c":"g"},
{"p":"S2J","a":"n","b":"ns","y":2.096,"c":"g"},{"p":"S2J","a":"n","b":"ns","y":2.117,"c":"k"},{"p":"S2J","a":"ns","b":"p","y":2.125,"c":"g"},{"p":"S2J","a":"ns","b":"p","y":2.146,"c":"k"},{"p":"S2J","a":"p","b":"ps","y":2.149,"c":"g"},{"p":"S2J","a":"p","b":"ps","y":2.172,"c":"k"},
{"p":"S2K","a":"n","b":"p","y":7.355,"c":"k"},{"p":"S2K","a":"ns","b":"p","y":7.43,"c":"g"},{"p":"S2K","a":"p","b":"ps","y":7.46,"c":"g"},{"p":"S2K","a":"p","b":"ps","y":7.54,"c":"k"},
{"p":"G1J","a":"n","b":"ns","y":74,"c":"g"},{"p":"G1J","a":"n","b":"ns","y":74.8,"c":"k"},{"p":"G1J","a":"ns","b":"p","y":75.5,"c":"g"},{"p":"G1J","a":"ns","b":"p","y":76,"c":"k"},{"p":"G1J","a":"p","b":"ps","y":76.1,"c":"g"},{"p":"G1J","a":"p","b":"ps","y":77,"c":"k"},
{"p":"G1K","a":"n","b":"ns","y":41.5,"c":"g"},{"p":"G1K","a":"n","b":"ns","y":42,"c":"k"},{"p":"G1K","a":"ns","b":"p","y":42.3,"c":"g"},{"p":"G1K","a":"ns","b":"p","y":42.6,"c":"k"},{"p":"G1K","a":"p","b":"ps","y":42.8,"c":"g"},{"p":"G1K","a":"p","b":"ps","y":43.2,"c":"k"},
{"p":"E1J","a":"n","b":"ns","y":32.6,"c":"g"},{"p":"E1J","a":"n","b":"ns","y":33,"c":"k"},{"p":"E1J","a":"ns","b":"p","y":33.3,"c":"g"},{"p":"E1J","a":"ns","b":"p","y":33.6,"c":"k"},{"p":"E1J","a":"p","b":"ps","y":33.75,"c":"g"},{"p":"E1J","a":"p","b":"ps","y":34.1,"c":"k"},
{"p":"E1K","a":"n","b":"ns","y":52.3,"c":"g"},{"p":"E1K","a":"n","b":"ns","y":52.96,"c":"k"},{"p":"E1K","a":"ns","b":"p","y":53.2,"c":"g"},{"p":"E1K","a":"ns","b":"p","y":53.8,"c":"k"},{"p":"E1K","a":"p","b":"ps","y":54,"c":"g"},{"p":"E1K","a":"p","b":"ps","y":54.8,"c":"k"},
{"p":"E2J","a":"n","b":"ns","y":1.77,"c":"g"},{"p":"E2J","a":"n","b":"ns","y":1.78,"c":"g"},{"p":"E2J","a":"n","b":"p","y":1.79,"c":"k"},{"p":"E2J","a":"p","b":"ps","y":1.804,"c":"g"},
{"p":"E2K","a":"n","b":"p","y":9.75,"c":"k"},{"p":"E2K","a":"p","b":"ps","y":9.79,"c":"k"}
]
},
"spacing":42,
"vconcat":[
{"hconcat":[
 {"vconcat":[
  {"width":320,"height":80,"layer":[
   {"data":{"name":"vl"},"mark":{"type":"rule","color":"#8a8a8a","strokeWidth":1},"encoding":{"x":{"field":"f","type":"quantitative","scale":{"type":"log","domain":[2,500],"nice":false},"axis":{"tickCount":40,"values":[2,3,4,5,6,7,8,9,10,20,30,40,50,60,70,80,90,100,200,300,400,500],"labels":false,"tickSize":3,"title":null}}}},
   {"data":{"name":"spec"},"transform":[{"filter":"datum.p=='J1'"}],"mark":{"type":"line","strokeWidth":1.4,"interpolate":"monotone"},"encoding":{"x":{"field":"f","type":"quantitative"},"y":{"field":"v","type":"quantitative","scale":{"domain":[0,100]},"axis":{"labels":false,"ticks":false,"title":["M1"],"titleAngle":0,"titleAlign":"right","titleBaseline":"top","titleX":-10,"titleY":1,"titleFontSize":12,"titleLineHeight":14}},"color":{"field":"s","type":"nominal","scale":{"domain":["N","NS","P","PS"],"range":["#111111","#111111","#e3262c","#e3262c"]}},"strokeDash":{"field":"s","type":"nominal","scale":{"domain":["N","NS","P","PS"],"range":[[1,0],[4,2.5],[1,0],[4,2.5]]}}}},
   {"data":{"name":"vl"},"mark":{"type":"text","fontSize":10,"dy":-10,"color":"#222"},"encoding":{"x":{"field":"f","type":"quantitative"},"y":{"datum":100},"text":{"field":"t"}}},
   {"data":{"values":[{}]},"mark":{"type":"text","text":"(Hz)","fontSize":10,"dy":-10,"dx":11,"align":"left","color":"#222"},"encoding":{"x":{"datum":370},"y":{"datum":100}}},
   {"data":{"values":[{}]},"mark":{"type":"text","text":"A","fontSize":18,"fontWeight":"bold","dy":-14,"dx":-32,"align":"left","baseline":"middle","color":"#111"},"encoding":{"x":{"datum":2},"y":{"datum":100}}},
   {"data":{"values":[{}]},"mark":{"type":"text","text":"Animal J","fontSize":10,"dx":6,"align":"left","baseline":"middle","color":"#222"},"encoding":{"x":{"datum":2},"y":{"datum":9}}}
  ]},
  {"width":320,"height":80,"layer":[
   {"data":{"name":"vl"},"mark":{"type":"rule","color":"#8a8a8a","strokeWidth":1},"encoding":{"x":{"field":"f","type":"quantitative","scale":{"type":"log","domain":[2,500],"nice":false},"axis":{"tickCount":40,"values":[2,3,4,5,6,7,8,9,10,20,30,40,50,60,70,80,90,100,200,300,400,500],"labels":false,"tickSize":3,"title":null}}}},
   {"data":{"name":"spec"},"transform":[{"filter":"datum.p=='J2'"}],"mark":{"type":"line","strokeWidth":1.4,"interpolate":"monotone"},"encoding":{"x":{"field":"f","type":"quantitative"},"y":{"field":"v","type":"quantitative","scale":{"domain":[0,100]},"axis":{"labels":false,"ticks":false,"title":["STN","C1-2"],"titleAngle":0,"titleAlign":"right","titleBaseline":"top","titleX":-10,"titleY":1,"titleFontSize":12,"titleLineHeight":14}},"color":{"field":"s","type":"nominal","scale":{"domain":["N","NS","P","PS"],"range":["#111111","#111111","#e3262c","#e3262c"]}},"strokeDash":{"field":"s","type":"nominal","scale":{"domain":["N","NS","P","PS"],"range":[[1,0],[4,2.5],[1,0],[4,2.5]]}}}}
  ]},
  {"width":320,"height":80,"layer":[
   {"data":{"name":"vl"},"mark":{"type":"rule","color":"#8a8a8a","strokeWidth":1},"encoding":{"x":{"field":"f","type":"quantitative","scale":{"type":"log","domain":[2,500],"nice":false},"axis":{"tickCount":40,"values":[2,3,4,5,6,7,8,9,10,20,30,40,50,60,70,80,90,100,200,300,400,500],"labels":false,"tickSize":3,"title":null}}}},
   {"data":{"name":"spec"},"transform":[{"filter":"datum.p=='J3'"}],"mark":{"type":"line","strokeWidth":1.4,"interpolate":"monotone"},"encoding":{"x":{"field":"f","type":"quantitative"},"y":{"field":"v","type":"quantitative","scale":{"domain":[0,100]},"axis":{"labels":false,"ticks":false,"title":["GPi","C2-3"],"titleAngle":0,"titleAlign":"right","titleBaseline":"top","titleX":-10,"titleY":1,"titleFontSize":12,"titleLineHeight":14}},"color":{"field":"s","type":"nominal","scale":{"domain":["N","NS","P","PS"],"range":["#111111","#111111","#e3262c","#e3262c"]}},"strokeDash":{"field":"s","type":"nominal","scale":{"domain":["N","NS","P","PS"],"range":[[1,0],[4,2.5],[1,0],[4,2.5]]}}}}
  ]},
  {"width":320,"height":80,"layer":[
   {"data":{"name":"vl"},"mark":{"type":"rule","color":"#8a8a8a","strokeWidth":1},"encoding":{"x":{"field":"f","type":"quantitative","scale":{"type":"log","domain":[2,500],"nice":false},"axis":{"tickCount":40,"values":[2,3,4,5,6,7,8,9,10,20,30,40,50,60,70,80,90,100,200,300,400,500],"tickSize":3,"labelPadding":1,"labelFontSize":11,"labelExpr":"datum.value==10?'10¹':datum.value==100?'10²':''","labelOverlap":false,"labelFlush":false,"title":"Frequency (Hz)","titleFontSize":13,"titlePadding":3}}}},
   {"data":{"name":"spec"},"transform":[{"filter":"datum.p=='J4'"}],"mark":{"type":"line","strokeWidth":1.4,"interpolate":"monotone"},"encoding":{"x":{"field":"f","type":"quantitative"},"y":{"field":"v","type":"quantitative","scale":{"domain":[0,100]},"axis":{"labels":false,"ticks":false,"title":["GPe/i","C5-6"],"titleAngle":0,"titleAlign":"right","titleBaseline":"top","titleX":-10,"titleY":1,"titleFontSize":12,"titleLineHeight":14}},"color":{"field":"s","type":"nominal","scale":{"domain":["N","NS","P","PS"],"range":["#111111","#111111","#e3262c","#e3262c"]},"legend":{"orient":"none","legendX":158,"legendY":386,"direction":"horizontal","columns":4,"title":null,"symbolType":"stroke","symbolSize":729,"symbolStrokeWidth":2,"labelFontSize":13,"labelOffset":2,"columnPadding":17,"padding":0,"labelExpr":"datum.label=='N'?'Normal':datum.label=='NS'?'Normal, sleep':datum.label=='P'?'Park.':'Park., sleep'"}},"strokeDash":{"field":"s","type":"nominal","scale":{"domain":["N","NS","P","PS"],"range":[[1,0],[4,2.5],[1,0],[4,2.5]]},"legend":{"orient":"none","legendX":158,"legendY":386,"direction":"horizontal","columns":4,"title":null,"symbolType":"stroke","symbolSize":729,"symbolStrokeWidth":2,"labelFontSize":13,"labelOffset":2,"columnPadding":17,"padding":0,"labelExpr":"datum.label=='N'?'Normal':datum.label=='NS'?'Normal, sleep':datum.label=='P'?'Park.':'Park., sleep'"}}}}
  ]}
 ],"spacing":11,"bounds":"flush"},
 {"vconcat":[
  {"width":320,"height":80,"layer":[
   {"data":{"name":"vl"},"mark":{"type":"rule","color":"#8a8a8a","strokeWidth":1},"encoding":{"x":{"field":"f","type":"quantitative","scale":{"type":"log","domain":[2,500],"nice":false},"axis":{"tickCount":40,"values":[2,3,4,5,6,7,8,9,10,20,30,40,50,60,70,80,90,100,200,300,400,500],"labels":false,"tickSize":3,"title":null}}}},
   {"data":{"name":"spec"},"transform":[{"filter":"datum.p=='K1'"}],"mark":{"type":"line","strokeWidth":1.4,"interpolate":"monotone"},"encoding":{"x":{"field":"f","type":"quantitative"},"y":{"field":"v","type":"quantitative","scale":{"domain":[0,100]},"axis":{"labels":false,"ticks":false,"title":["M1"],"titleAngle":0,"titleAlign":"right","titleBaseline":"top","titleX":-24,"titleY":1,"titleFontSize":12,"titleLineHeight":14}},"color":{"field":"s","type":"nominal","scale":{"domain":["N","NS","P","PS"],"range":["#111111","#111111","#e3262c","#e3262c"]}},"strokeDash":{"field":"s","type":"nominal","scale":{"domain":["N","NS","P","PS"],"range":[[1,0],[4,2.5],[1,0],[4,2.5]]}}}},
   {"data":{"name":"vl"},"mark":{"type":"text","fontSize":10,"dy":-10,"color":"#222"},"encoding":{"x":{"field":"f","type":"quantitative"},"y":{"datum":100},"text":{"field":"t"}}},
   {"data":{"values":[{}]},"mark":{"type":"text","text":"(Hz)","fontSize":10,"dy":-10,"dx":11,"align":"left","color":"#222"},"encoding":{"x":{"datum":370},"y":{"datum":100}}},
   {"data":{"values":[{}]},"mark":{"type":"text","text":"B","fontSize":18,"fontWeight":"bold","dy":-14,"dx":-52,"align":"left","baseline":"middle","color":"#111"},"encoding":{"x":{"datum":2},"y":{"datum":100}}},
   {"data":{"values":[{}]},"mark":{"type":"text","text":"Animal K","fontSize":10,"dx":6,"align":"left","baseline":"middle","color":"#222"},"encoding":{"x":{"datum":2},"y":{"datum":9}}}
  ]},
  {"width":320,"height":80,"layer":[
   {"data":{"name":"vl"},"mark":{"type":"rule","color":"#8a8a8a","strokeWidth":1},"encoding":{"x":{"field":"f","type":"quantitative","scale":{"type":"log","domain":[2,500],"nice":false},"axis":{"tickCount":40,"values":[2,3,4,5,6,7,8,9,10,20,30,40,50,60,70,80,90,100,200,300,400,500],"labels":false,"tickSize":3,"title":null}}}},
   {"data":{"name":"spec"},"transform":[{"filter":"datum.p=='K2'"}],"mark":{"type":"line","strokeWidth":1.4,"interpolate":"monotone"},"encoding":{"x":{"field":"f","type":"quantitative"},"y":{"field":"v","type":"quantitative","scale":{"domain":[0,100]},"axis":{"labels":false,"ticks":false,"title":["STN","C0-1"],"titleAngle":0,"titleAlign":"right","titleBaseline":"top","titleX":-24,"titleY":1,"titleFontSize":12,"titleLineHeight":14}},"color":{"field":"s","type":"nominal","scale":{"domain":["N","NS","P","PS"],"range":["#111111","#111111","#e3262c","#e3262c"]}},"strokeDash":{"field":"s","type":"nominal","scale":{"domain":["N","NS","P","PS"],"range":[[1,0],[4,2.5],[1,0],[4,2.5]]}}}}
  ]},
  {"width":320,"height":80,"layer":[
   {"data":{"name":"vl"},"mark":{"type":"rule","color":"#8a8a8a","strokeWidth":1},"encoding":{"x":{"field":"f","type":"quantitative","scale":{"type":"log","domain":[2,500],"nice":false},"axis":{"tickCount":40,"values":[2,3,4,5,6,7,8,9,10,20,30,40,50,60,70,80,90,100,200,300,400,500],"labels":false,"tickSize":3,"title":null}}}},
   {"data":{"name":"spec"},"transform":[{"filter":"datum.p=='K3'"}],"mark":{"type":"line","strokeWidth":1.4,"interpolate":"monotone"},"encoding":{"x":{"field":"f","type":"quantitative"},"y":{"field":"v","type":"quantitative","scale":{"domain":[0,100]},"axis":{"labels":false,"ticks":false,"title":["GPi","C0-1"],"titleAngle":0,"titleAlign":"right","titleBaseline":"top","titleX":-24,"titleY":1,"titleFontSize":12,"titleLineHeight":14}},"color":{"field":"s","type":"nominal","scale":{"domain":["N","NS","P","PS"],"range":["#111111","#111111","#e3262c","#e3262c"]}},"strokeDash":{"field":"s","type":"nominal","scale":{"domain":["N","NS","P","PS"],"range":[[1,0],[4,2.5],[1,0],[4,2.5]]}}}}
  ]},
  {"width":320,"height":80,"layer":[
   {"data":{"name":"vl"},"mark":{"type":"rule","color":"#8a8a8a","strokeWidth":1},"encoding":{"x":{"field":"f","type":"quantitative","scale":{"type":"log","domain":[2,500],"nice":false},"axis":{"tickCount":40,"values":[2,3,4,5,6,7,8,9,10,20,30,40,50,60,70,80,90,100,200,300,400,500],"tickSize":3,"labelPadding":1,"labelFontSize":11,"labelExpr":"datum.value==10?'10¹':datum.value==100?'10²':''","labelOverlap":false,"labelFlush":false,"title":"Frequency (Hz)","titleFontSize":13,"titlePadding":3}}}},
   {"data":{"name":"spec"},"transform":[{"filter":"datum.p=='K4'"}],"mark":{"type":"line","strokeWidth":1.4,"interpolate":"monotone"},"encoding":{"x":{"field":"f","type":"quantitative"},"y":{"field":"v","type":"quantitative","scale":{"domain":[0,100]},"axis":{"labels":false,"ticks":false,"title":["GPe","C4-5"],"titleAngle":0,"titleAlign":"right","titleBaseline":"top","titleX":-24,"titleY":1,"titleFontSize":12,"titleLineHeight":14}},"color":{"field":"s","type":"nominal","scale":{"domain":["N","NS","P","PS"],"range":["#111111","#111111","#e3262c","#e3262c"]}},"strokeDash":{"field":"s","type":"nominal","scale":{"domain":["N","NS","P","PS"],"range":[[1,0],[4,2.5],[1,0],[4,2.5]]}}}}
  ]}
 ],"spacing":11,"bounds":"flush"}
],"spacing":35},
{"spacing":15,"vconcat":[
 {"spacing":33,"hconcat":[
  {"spacing":43,"hconcat":[
   {"title":{"text":"M1 (20-30Hz)","anchor":"middle","offset":-31,"baseline":"bottom","fontSize":13},"spacing":29,"bounds":"flush","hconcat":[
    {"width":91,"height":188,"layer":[
     {"data":{"name":"sig"},"transform":[{"filter":"datum.p=='M1J'"}],"mark":{"type":"rule","clip":false,"strokeWidth":1},"encoding":{"x":{"field":"a","type":"nominal","scale":{"type":"point","padding":0.5,"domain":["n","ns","p","ps"]},"axis":{"labels":false,"ticks":false,"title":"J","titlePadding":7,"titleFontSize":11}},"x2":{"field":"b"},"y":{"field":"y","type":"quantitative","scale":{"domain":[0,3767],"nice":false,"zero":false},"axis":{"tickCount":40,"values":[0,500,1000,1500,2000,2500,3166],"labelExpr":"datum.value>3000?'>3000':format(datum.value,'d')","labelOverlap":false,"domainDash":[158,100],"tickSize":4,"labelPadding":2,"labelFontSize":10,"title":"Power (uV²)","titleFontSize":10.5,"titlePadding":2}},"color":{"condition":{"test":"datum.c=='k'","value":"#444"},"value":"#9a9a9a"}}},
     {"data":{"name":"box"},"transform":[{"filter":"datum.p=='M1J'"}],"mark":{"type":"rule","color":"#555","strokeWidth":1},"encoding":{"x":{"field":"g","type":"nominal"},"y":{"field":"lo","type":"quantitative"},"y2":{"field":"hi"}}},
     {"data":{"name":"box"},"transform":[{"filter":"datum.p=='M1J'"}],"mark":{"type":"bar","width":12,"strokeWidth":1.2},"encoding":{"x":{"field":"g","type":"nominal"},"y":{"field":"q1","type":"quantitative"},"y2":{"field":"q3"},"fill":{"field":"g","type":"nominal","scale":{"domain":["n","ns","p","ps"],"range":["#3c3c3c","#ffffff","#e3202a","#ffffff"]},"legend":{"orient":"none","legendX":42,"legendY":453,"columns":2,"direction":"horizontal","title":null,"symbolType":"M-1.8,-1H1.8V1H-1.8Z","symbolSize":100,"symbolStrokeWidth":1.2,"labelFontSize":10.5,"labelOffset":3,"columnPadding":16,"rowPadding":2,"padding":0,"labelExpr":"datum.label=='n'?'Normal':datum.label=='ns'?'Normal, sleep':datum.label=='p'?'Park.':'Park., sleep'"}},"stroke":{"field":"g","type":"nominal","scale":{"domain":["n","ns","p","ps"],"range":["#2a2a2a","#2a2a2a","#cc1a20","#e3262c"]},"legend":{"orient":"none","legendX":42,"legendY":453,"columns":2,"direction":"horizontal","title":null,"symbolType":"M-1.8,-1H1.8V1H-1.8Z","symbolSize":100,"symbolStrokeWidth":1.2,"labelFontSize":10.5,"labelOffset":3,"columnPadding":16,"rowPadding":2,"padding":0,"labelExpr":"datum.label=='n'?'Normal':datum.label=='ns'?'Normal, sleep':datum.label=='p'?'Park.':'Park., sleep'"}}}},
     {"data":{"name":"box"},"transform":[{"filter":"datum.p=='M1J'"}],"mark":{"type":"tick","color":"#111","thickness":2,"size":12},"encoding":{"x":{"field":"g","type":"nominal"},"y":{"field":"md","type":"quantitative"}}},
     {"data":{"name":"out"},"transform":[{"filter":"datum.p=='M1J'"}],"mark":{"type":"point","shape":"cross","size":16,"filled":true,"color":"#333","opacity":1},"encoding":{"x":{"field":"g","type":"nominal"},"y":{"field":"v","type":"quantitative"}}},
     {"data":{"values":[{}]},"mark":{"type":"text","text":"C","fontSize":18,"fontWeight":"bold","align":"left","baseline":"middle","dx":-57,"dy":-27,"color":"#111"},"encoding":{"x":{"datum":"n"},"y":{"datum":3767}}}
    ]},
    {"width":91,"height":188,"layer":[
     {"data":{"name":"sig"},"transform":[{"filter":"datum.p=='M1K'"}],"mark":{"type":"rule","clip":false,"strokeWidth":1},"encoding":{"x":{"field":"a","type":"nominal","scale":{"type":"point","padding":0.5,"domain":["n","ns","p","ps"]},"axis":{"labels":false,"ticks":false,"title":"K","titlePadding":7,"titleFontSize":11}},"x2":{"field":"b"},"y":{"field":"y","type":"quantitative","scale":{"domain":[0,3767],"nice":false,"zero":false},"axis":{"tickCount":40,"values":[0,500,1000,1500,2000,2500,3166],"labels":false,"domainDash":[158,100],"tickSize":4,"title":null}},"color":{"condition":{"test":"datum.c=='k'","value":"#444"},"value":"#9a9a9a"}}},
     {"data":{"name":"box"},"transform":[{"filter":"datum.p=='M1K'"}],"mark":{"type":"rule","color":"#555","strokeWidth":1},"encoding":{"x":{"field":"g","type":"nominal"},"y":{"field":"lo","type":"quantitative"},"y2":{"field":"hi"}}},
     {"data":{"name":"box"},"transform":[{"filter":"datum.p=='M1K'"}],"mark":{"type":"bar","width":12,"strokeWidth":1.2},"encoding":{"x":{"field":"g","type":"nominal"},"y":{"field":"q1","type":"quantitative"},"y2":{"field":"q3"},"fill":{"field":"g","type":"nominal","scale":{"domain":["n","ns","p","ps"],"range":["#3c3c3c","#ffffff","#e3202a","#ffffff"]}},"stroke":{"field":"g","type":"nominal","scale":{"domain":["n","ns","p","ps"],"range":["#2a2a2a","#2a2a2a","#cc1a20","#e3262c"]}}}},
     {"data":{"name":"box"},"transform":[{"filter":"datum.p=='M1K'"}],"mark":{"type":"tick","color":"#111","thickness":2,"size":12},"encoding":{"x":{"field":"g","type":"nominal"},"y":{"field":"md","type":"quantitative"}}},
     {"data":{"name":"out"},"transform":[{"filter":"datum.p=='M1K'"}],"mark":{"type":"point","shape":"cross","size":16,"filled":true,"color":"#333","opacity":1},"encoding":{"x":{"field":"g","type":"nominal"},"y":{"field":"v","type":"quantitative"}}}
    ]}
   ]},
   {"title":{"text":"STN (8-20Hz)","anchor":"middle","offset":3,"baseline":"bottom","fontSize":13},"spacing":29,"bounds":"flush","hconcat":[
    {"width":91,"height":188,"layer":[
     {"data":{"name":"sig"},"transform":[{"filter":"datum.p=='S1J'"}],"mark":{"type":"rule","clip":false,"strokeWidth":1},"encoding":{"x":{"field":"a","type":"nominal","scale":{"type":"point","padding":0.5,"domain":["n","ns","p","ps"]},"axis":{"labels":false,"ticks":false,"title":"J","titlePadding":7,"titleFontSize":11}},"x2":{"field":"b"},"y":{"field":"y","type":"quantitative","scale":{"domain":[0,45.5],"nice":false,"zero":false},"axis":{"tickCount":40,"values":[5,10,15,20,25,30,35,40,45],"labelExpr":"format(datum.value,'~g')","labelOverlap":false,"tickSize":4,"labelPadding":2,"labelFontSize":10,"title":null}},"color":{"condition":{"test":"datum.c=='k'","value":"#444"},"value":"#9a9a9a"}}},
     {"data":{"name":"box"},"transform":[{"filter":"datum.p=='S1J'"}],"mark":{"type":"rule","color":"#555","strokeWidth":1},"encoding":{"x":{"field":"g","type":"nominal"},"y":{"field":"lo","type":"quantitative"},"y2":{"field":"hi"}}},
     {"data":{"name":"box"},"transform":[{"filter":"datum.p=='S1J'"}],"mark":{"type":"bar","width":12,"strokeWidth":1.2},"encoding":{"x":{"field":"g","type":"nominal"},"y":{"field":"q1","type":"quantitative"},"y2":{"field":"q3"},"fill":{"field":"g","type":"nominal","scale":{"domain":["n","ns","p","ps"],"range":["#3c3c3c","#ffffff","#e3202a","#ffffff"]}},"stroke":{"field":"g","type":"nominal","scale":{"domain":["n","ns","p","ps"],"range":["#2a2a2a","#2a2a2a","#cc1a20","#e3262c"]}}}},
     {"data":{"name":"box"},"transform":[{"filter":"datum.p=='S1J'"}],"mark":{"type":"tick","color":"#111","thickness":2,"size":12},"encoding":{"x":{"field":"g","type":"nominal"},"y":{"field":"md","type":"quantitative"}}},
     {"data":{"name":"out"},"transform":[{"filter":"datum.p=='S1J'"}],"mark":{"type":"point","shape":"cross","size":16,"filled":true,"color":"#333","opacity":1},"encoding":{"x":{"field":"g","type":"nominal"},"y":{"field":"v","type":"quantitative"}}}
    ]},
    {"width":91,"height":188,"layer":[
     {"data":{"name":"sig"},"transform":[{"filter":"datum.p=='S1K'"}],"mark":{"type":"rule","clip":false,"strokeWidth":1},"encoding":{"x":{"field":"a","type":"nominal","scale":{"type":"point","padding":0.5,"domain":["n","ns","p","ps"]},"axis":{"labels":false,"ticks":false,"title":"K","titlePadding":7,"titleFontSize":11}},"x2":{"field":"b"},"y":{"field":"y","type":"quantitative","scale":{"domain":[0,219],"nice":false,"zero":false},"axis":{"tickCount":40,"values":[0,20,40,60,80,100,120,140,160,180,200],"labelExpr":"format(datum.value,'~g')","labelOverlap":false,"tickSize":4,"labelPadding":2,"labelFontSize":10,"title":null}},"color":{"condition":{"test":"datum.c=='k'","value":"#444"},"value":"#9a9a9a"}}},
     {"data":{"name":"box"},"transform":[{"filter":"datum.p=='S1K'"}],"mark":{"type":"rule","color":"#555","strokeWidth":1},"encoding":{"x":{"field":"g","type":"nominal"},"y":{"field":"lo","type":"quantitative"},"y2":{"field":"hi"}}},
     {"data":{"name":"box"},"transform":[{"filter":"datum.p=='S1K'"}],"mark":{"type":"bar","width":12,"strokeWidth":1.2},"encoding":{"x":{"field":"g","type":"nominal"},"y":{"field":"q1","type":"quantitative"},"y2":{"field":"q3"},"fill":{"field":"g","type":"nominal","scale":{"domain":["n","ns","p","ps"],"range":["#3c3c3c","#ffffff","#e3202a","#ffffff"]}},"stroke":{"field":"g","type":"nominal","scale":{"domain":["n","ns","p","ps"],"range":["#2a2a2a","#2a2a2a","#cc1a20","#e3262c"]}}}},
     {"data":{"name":"box"},"transform":[{"filter":"datum.p=='S1K'"}],"mark":{"type":"tick","color":"#111","thickness":2,"size":12},"encoding":{"x":{"field":"g","type":"nominal"},"y":{"field":"md","type":"quantitative"}}},
     {"data":{"name":"out"},"transform":[{"filter":"datum.p=='S1K'"}],"mark":{"type":"point","shape":"cross","size":16,"filled":true,"color":"#333","opacity":1},"encoding":{"x":{"field":"g","type":"nominal"},"y":{"field":"v","type":"quantitative"}}}
    ]}
   ]}
  ]},
  {"title":{"text":"STN (260-370Hz)","anchor":"middle","offset":4,"baseline":"bottom","fontSize":13},"spacing":25,"bounds":"flush","hconcat":[
   {"width":91,"height":188,"layer":[
    {"data":{"name":"sig"},"transform":[{"filter":"datum.p=='S2J'"}],"mark":{"type":"rule","clip":false,"strokeWidth":1},"encoding":{"x":{"field":"a","type":"nominal","scale":{"type":"point","padding":0.5,"domain":["n","ns","p","ps"]},"axis":{"labels":false,"ticks":false,"title":"J","titlePadding":7,"titleFontSize":11}},"x2":{"field":"b"},"y":{"field":"y","type":"quantitative","scale":{"domain":[0.51,2.16],"nice":false,"zero":false},"axis":{"tickCount":40,"values":[1,1.5,2],"labelExpr":"format(datum.value,'~g')","labelOverlap":false,"tickSize":4,"labelPadding":2,"labelFontSize":10,"title":null}},"color":{"condition":{"test":"datum.c=='k'","value":"#444"},"value":"#9a9a9a"}}},
    {"data":{"name":"box"},"transform":[{"filter":"datum.p=='S2J'"}],"mark":{"type":"rule","color":"#555","strokeWidth":1},"encoding":{"x":{"field":"g","type":"nominal"},"y":{"field":"lo","type":"quantitative"},"y2":{"field":"hi"}}},
    {"data":{"name":"box"},"transform":[{"filter":"datum.p=='S2J'"}],"mark":{"type":"bar","width":12,"strokeWidth":1.2},"encoding":{"x":{"field":"g","type":"nominal"},"y":{"field":"q1","type":"quantitative"},"y2":{"field":"q3"},"fill":{"field":"g","type":"nominal","scale":{"domain":["n","ns","p","ps"],"range":["#3c3c3c","#ffffff","#e3202a","#ffffff"]}},"stroke":{"field":"g","type":"nominal","scale":{"domain":["n","ns","p","ps"],"range":["#2a2a2a","#2a2a2a","#cc1a20","#e3262c"]}}}},
    {"data":{"name":"box"},"transform":[{"filter":"datum.p=='S2J'"}],"mark":{"type":"tick","color":"#111","thickness":2,"size":12},"encoding":{"x":{"field":"g","type":"nominal"},"y":{"field":"md","type":"quantitative"}}},
    {"data":{"name":"out"},"transform":[{"filter":"datum.p=='S2J'"}],"mark":{"type":"point","shape":"cross","size":16,"filled":true,"color":"#333","opacity":1},"encoding":{"x":{"field":"g","type":"nominal"},"y":{"field":"v","type":"quantitative"}}}
   ]},
   {"width":91,"height":188,"layer":[
    {"data":{"name":"sig"},"transform":[{"filter":"datum.p=='S2K'"}],"mark":{"type":"rule","clip":false,"strokeWidth":1},"encoding":{"x":{"field":"a","type":"nominal","scale":{"type":"point","padding":0.5,"domain":["n","ns","p","ps"]},"axis":{"labels":false,"ticks":false,"title":"K","titlePadding":7,"titleFontSize":11}},"x2":{"field":"b"},"y":{"field":"y","type":"quantitative","scale":{"domain":[1.45,7.5],"nice":false,"zero":false},"axis":{"tickCount":40,"values":[2,3,4,5,6,7],"labelExpr":"format(datum.value,'~g')","labelOverlap":false,"tickSize":4,"labelPadding":2,"labelFontSize":10,"title":null}},"color":{"condition":{"test":"datum.c=='k'","value":"#444"},"value":"#9a9a9a"}}},
    {"data":{"name":"box"},"transform":[{"filter":"datum.p=='S2K'"}],"mark":{"type":"rule","color":"#555","strokeWidth":1},"encoding":{"x":{"field":"g","type":"nominal"},"y":{"field":"lo","type":"quantitative"},"y2":{"field":"hi"}}},
    {"data":{"name":"box"},"transform":[{"filter":"datum.p=='S2K'"}],"mark":{"type":"bar","width":12,"strokeWidth":1.2},"encoding":{"x":{"field":"g","type":"nominal"},"y":{"field":"q1","type":"quantitative"},"y2":{"field":"q3"},"fill":{"field":"g","type":"nominal","scale":{"domain":["n","ns","p","ps"],"range":["#3c3c3c","#ffffff","#e3202a","#ffffff"]}},"stroke":{"field":"g","type":"nominal","scale":{"domain":["n","ns","p","ps"],"range":["#2a2a2a","#2a2a2a","#cc1a20","#e3262c"]}}}},
    {"data":{"name":"box"},"transform":[{"filter":"datum.p=='S2K'"}],"mark":{"type":"tick","color":"#111","thickness":2,"size":12},"encoding":{"x":{"field":"g","type":"nominal"},"y":{"field":"md","type":"quantitative"}}},
    {"data":{"name":"out"},"transform":[{"filter":"datum.p=='S2K'"}],"mark":{"type":"point","shape":"cross","size":16,"filled":true,"color":"#333","opacity":1},"encoding":{"x":{"field":"g","type":"nominal"},"y":{"field":"v","type":"quantitative"}}}
   ]}
  ]}
 ]},
 {"spacing":33,"hconcat":[
  {"spacing":46,"hconcat":[
   {"title":{"text":"GPi (8-20Hz)","anchor":"middle","offset":-9,"baseline":"bottom","fontSize":13},"spacing":29,"bounds":"flush","hconcat":[
    {"width":91,"height":189,"layer":[
     {"data":{"name":"sig"},"transform":[{"filter":"datum.p=='G1J'"}],"mark":{"type":"rule","clip":false,"strokeWidth":1},"encoding":{"x":{"field":"a","type":"nominal","scale":{"type":"point","padding":0.5,"domain":["n","ns","p","ps"]},"axis":{"labels":false,"ticks":false,"title":"J","titlePadding":7,"titleFontSize":11}},"x2":{"field":"b"},"y":{"field":"y","type":"quantitative","scale":{"domain":[0,75.7],"nice":false,"zero":false},"axis":{"tickCount":40,"values":[0,10,20,30,40,50,60,70],"labelExpr":"format(datum.value,'~g')","labelOverlap":false,"tickSize":4,"labelPadding":2,"labelFontSize":10,"title":"Power (uV²)","titleFontSize":10.5,"titlePadding":16}},"color":{"condition":{"test":"datum.c=='k'","value":"#444"},"value":"#9a9a9a"}}},
     {"data":{"name":"box"},"transform":[{"filter":"datum.p=='G1J'"}],"mark":{"type":"rule","color":"#555","strokeWidth":1},"encoding":{"x":{"field":"g","type":"nominal"},"y":{"field":"lo","type":"quantitative"},"y2":{"field":"hi"}}},
     {"data":{"name":"box"},"transform":[{"filter":"datum.p=='G1J'"}],"mark":{"type":"bar","width":12,"strokeWidth":1.2},"encoding":{"x":{"field":"g","type":"nominal"},"y":{"field":"q1","type":"quantitative"},"y2":{"field":"q3"},"fill":{"field":"g","type":"nominal","scale":{"domain":["n","ns","p","ps"],"range":["#3c3c3c","#ffffff","#e3202a","#ffffff"]}},"stroke":{"field":"g","type":"nominal","scale":{"domain":["n","ns","p","ps"],"range":["#2a2a2a","#2a2a2a","#cc1a20","#e3262c"]}}}},
     {"data":{"name":"box"},"transform":[{"filter":"datum.p=='G1J'"}],"mark":{"type":"tick","color":"#111","thickness":2,"size":12},"encoding":{"x":{"field":"g","type":"nominal"},"y":{"field":"md","type":"quantitative"}}},
     {"data":{"name":"out"},"transform":[{"filter":"datum.p=='G1J'"}],"mark":{"type":"point","shape":"cross","size":16,"filled":true,"color":"#333","opacity":1},"encoding":{"x":{"field":"g","type":"nominal"},"y":{"field":"v","type":"quantitative"}}}
    ]},
    {"width":91,"height":189,"layer":[
     {"data":{"name":"sig"},"transform":[{"filter":"datum.p=='G1K'"}],"mark":{"type":"rule","clip":false,"strokeWidth":1},"encoding":{"x":{"field":"a","type":"nominal","scale":{"type":"point","padding":0.5,"domain":["n","ns","p","ps"]},"axis":{"labels":false,"ticks":false,"title":"K","titlePadding":7,"titleFontSize":11}},"x2":{"field":"b"},"y":{"field":"y","type":"quantitative","scale":{"domain":[2.4,42.8],"nice":false,"zero":false},"axis":{"tickCount":40,"values":[5,10,15,20,25,30,35,40],"labelExpr":"format(datum.value,'~g')","labelOverlap":false,"tickSize":4,"labelPadding":2,"labelFontSize":10,"title":null}},"color":{"condition":{"test":"datum.c=='k'","value":"#444"},"value":"#9a9a9a"}}},
     {"data":{"name":"box"},"transform":[{"filter":"datum.p=='G1K'"}],"mark":{"type":"rule","color":"#555","strokeWidth":1},"encoding":{"x":{"field":"g","type":"nominal"},"y":{"field":"lo","type":"quantitative"},"y2":{"field":"hi"}}},
     {"data":{"name":"box"},"transform":[{"filter":"datum.p=='G1K'"}],"mark":{"type":"bar","width":12,"strokeWidth":1.2},"encoding":{"x":{"field":"g","type":"nominal"},"y":{"field":"q1","type":"quantitative"},"y2":{"field":"q3"},"fill":{"field":"g","type":"nominal","scale":{"domain":["n","ns","p","ps"],"range":["#3c3c3c","#ffffff","#e3202a","#ffffff"]}},"stroke":{"field":"g","type":"nominal","scale":{"domain":["n","ns","p","ps"],"range":["#2a2a2a","#2a2a2a","#cc1a20","#e3262c"]}}}},
     {"data":{"name":"box"},"transform":[{"filter":"datum.p=='G1K'"}],"mark":{"type":"tick","color":"#111","thickness":2,"size":12},"encoding":{"x":{"field":"g","type":"nominal"},"y":{"field":"md","type":"quantitative"}}},
     {"data":{"name":"out"},"transform":[{"filter":"datum.p=='G1K'"}],"mark":{"type":"point","shape":"cross","size":16,"filled":true,"color":"#333","opacity":1},"encoding":{"x":{"field":"g","type":"nominal"},"y":{"field":"v","type":"quantitative"}}}
    ]}
   ]},
   {"title":{"text":"GPe/i and GPe (8-20Hz)","anchor":"middle","offset":-8,"baseline":"bottom","fontSize":13},"spacing":28,"bounds":"flush","hconcat":[
    {"width":91,"height":189,"layer":[
     {"data":{"name":"sig"},"transform":[{"filter":"datum.p=='E1J'"}],"mark":{"type":"rule","clip":false,"strokeWidth":1},"encoding":{"x":{"field":"a","type":"nominal","scale":{"type":"point","padding":0.5,"domain":["n","ns","p","ps"]},"axis":{"labels":false,"ticks":false,"title":"J","titlePadding":7,"titleFontSize":11}},"x2":{"field":"b"},"y":{"field":"y","type":"quantitative","scale":{"domain":[1.25,33.4],"nice":false,"zero":false},"axis":{"tickCount":40,"values":[5,10,15,20,25,30],"labelExpr":"format(datum.value,'~g')","labelOverlap":false,"tickSize":4,"labelPadding":2,"labelFontSize":10,"title":null}},"color":{"condition":{"test":"datum.c=='k'","value":"#444"},"value":"#9a9a9a"}}},
     {"data":{"name":"box"},"transform":[{"filter":"datum.p=='E1J'"}],"mark":{"type":"rule","color":"#555","strokeWidth":1},"encoding":{"x":{"field":"g","type":"nominal"},"y":{"field":"lo","type":"quantitative"},"y2":{"field":"hi"}}},
     {"data":{"name":"box"},"transform":[{"filter":"datum.p=='E1J'"}],"mark":{"type":"bar","width":12,"strokeWidth":1.2},"encoding":{"x":{"field":"g","type":"nominal"},"y":{"field":"q1","type":"quantitative"},"y2":{"field":"q3"},"fill":{"field":"g","type":"nominal","scale":{"domain":["n","ns","p","ps"],"range":["#3c3c3c","#ffffff","#e3202a","#ffffff"]}},"stroke":{"field":"g","type":"nominal","scale":{"domain":["n","ns","p","ps"],"range":["#2a2a2a","#2a2a2a","#cc1a20","#e3262c"]}}}},
     {"data":{"name":"box"},"transform":[{"filter":"datum.p=='E1J'"}],"mark":{"type":"tick","color":"#111","thickness":2,"size":12},"encoding":{"x":{"field":"g","type":"nominal"},"y":{"field":"md","type":"quantitative"}}},
     {"data":{"name":"out"},"transform":[{"filter":"datum.p=='E1J'"}],"mark":{"type":"point","shape":"cross","size":16,"filled":true,"color":"#333","opacity":1},"encoding":{"x":{"field":"g","type":"nominal"},"y":{"field":"v","type":"quantitative"}}},
     {"data":{"values":[{}]},"mark":{"type":"text","text":"GPe/i","fontSize":10.5,"align":"right","baseline":"bottom","dx":11,"dy":-1,"color":"#222"},"encoding":{"x":{"datum":"ps"},"y":{"datum":1.25}}}
    ]},
    {"width":91,"height":189,"layer":[
     {"data":{"name":"sig"},"transform":[{"filter":"datum.p=='E1K'"}],"mark":{"type":"rule","clip":false,"strokeWidth":1},"encoding":{"x":{"field":"a","type":"nominal","scale":{"type":"point","padding":0.5,"domain":["n","ns","p","ps"]},"axis":{"labels":false,"ticks":false,"title":"K","titlePadding":7,"titleFontSize":11}},"x2":{"field":"b"},"y":{"field":"y","type":"quantitative","scale":{"domain":[1.4,53.9],"nice":false,"zero":false},"axis":{"tickCount":40,"values":[5,10,15,20,25,30,35,40,45,50],"labelExpr":"format(datum.value,'~g')","labelOverlap":false,"tickSize":4,"labelPadding":2,"labelFontSize":10,"title":null}},"color":{"condition":{"test":"datum.c=='k'","value":"#444"},"value":"#9a9a9a"}}},
     {"data":{"name":"box"},"transform":[{"filter":"datum.p=='E1K'"}],"mark":{"type":"rule","color":"#555","strokeWidth":1},"encoding":{"x":{"field":"g","type":"nominal"},"y":{"field":"lo","type":"quantitative"},"y2":{"field":"hi"}}},
     {"data":{"name":"box"},"transform":[{"filter":"datum.p=='E1K'"}],"mark":{"type":"bar","width":12,"strokeWidth":1.2},"encoding":{"x":{"field":"g","type":"nominal"},"y":{"field":"q1","type":"quantitative"},"y2":{"field":"q3"},"fill":{"field":"g","type":"nominal","scale":{"domain":["n","ns","p","ps"],"range":["#3c3c3c","#ffffff","#e3202a","#ffffff"]}},"stroke":{"field":"g","type":"nominal","scale":{"domain":["n","ns","p","ps"],"range":["#2a2a2a","#2a2a2a","#cc1a20","#e3262c"]}}}},
     {"data":{"name":"box"},"transform":[{"filter":"datum.p=='E1K'"}],"mark":{"type":"tick","color":"#111","thickness":2,"size":12},"encoding":{"x":{"field":"g","type":"nominal"},"y":{"field":"md","type":"quantitative"}}},
     {"data":{"name":"out"},"transform":[{"filter":"datum.p=='E1K'"}],"mark":{"type":"point","shape":"cross","size":16,"filled":true,"color":"#333","opacity":1},"encoding":{"x":{"field":"g","type":"nominal"},"y":{"field":"v","type":"quantitative"}}},
     {"data":{"values":[{}]},"mark":{"type":"text","text":"GPe","fontSize":10.5,"align":"right","baseline":"bottom","dx":11,"dy":-1,"color":"#222"},"encoding":{"x":{"datum":"ps"},"y":{"datum":1.4}}}
    ]}
   ]}
  ]},
  {"title":{"text":"GPe/i and GPe (140-260Hz)","anchor":"middle","offset":-8,"baseline":"bottom","fontSize":13},"spacing":24,"bounds":"flush","hconcat":[
   {"width":91,"height":189,"layer":[
    {"data":{"name":"sig"},"transform":[{"filter":"datum.p=='E2J'"}],"mark":{"type":"rule","clip":false,"strokeWidth":1},"encoding":{"x":{"field":"a","type":"nominal","scale":{"type":"point","padding":0.5,"domain":["n","ns","p","ps"]},"axis":{"labels":false,"ticks":false,"title":"J","titlePadding":7,"titleFontSize":11}},"x2":{"field":"b"},"y":{"field":"y","type":"quantitative","scale":{"domain":[0.6,1.8],"nice":false,"zero":false},"axis":{"tickCount":40,"values":[0.6,0.8,1,1.2,1.4,1.6,1.8],"labelExpr":"format(datum.value,'~g')","labelOverlap":false,"tickSize":4,"labelPadding":2,"labelFontSize":10,"title":null}},"color":{"condition":{"test":"datum.c=='k'","value":"#444"},"value":"#9a9a9a"}}},
    {"data":{"name":"box"},"transform":[{"filter":"datum.p=='E2J'"}],"mark":{"type":"rule","color":"#555","strokeWidth":1},"encoding":{"x":{"field":"g","type":"nominal"},"y":{"field":"lo","type":"quantitative"},"y2":{"field":"hi"}}},
    {"data":{"name":"box"},"transform":[{"filter":"datum.p=='E2J'"}],"mark":{"type":"bar","width":12,"strokeWidth":1.2},"encoding":{"x":{"field":"g","type":"nominal"},"y":{"field":"q1","type":"quantitative"},"y2":{"field":"q3"},"fill":{"field":"g","type":"nominal","scale":{"domain":["n","ns","p","ps"],"range":["#3c3c3c","#ffffff","#e3202a","#ffffff"]}},"stroke":{"field":"g","type":"nominal","scale":{"domain":["n","ns","p","ps"],"range":["#2a2a2a","#2a2a2a","#cc1a20","#e3262c"]}}}},
    {"data":{"name":"box"},"transform":[{"filter":"datum.p=='E2J'"}],"mark":{"type":"tick","color":"#111","thickness":2,"size":12},"encoding":{"x":{"field":"g","type":"nominal"},"y":{"field":"md","type":"quantitative"}}},
    {"data":{"name":"out"},"transform":[{"filter":"datum.p=='E2J'"}],"mark":{"type":"point","shape":"cross","size":16,"filled":true,"color":"#333","opacity":1},"encoding":{"x":{"field":"g","type":"nominal"},"y":{"field":"v","type":"quantitative"}}},
    {"data":{"values":[{}]},"mark":{"type":"text","text":"GPe/i","fontSize":10.5,"align":"right","baseline":"bottom","dx":11,"dy":-1,"color":"#222"},"encoding":{"x":{"datum":"ps"},"y":{"datum":0.6}}}
   ]},
   {"width":91,"height":189,"layer":[
    {"data":{"name":"sig"},"transform":[{"filter":"datum.p=='E2K'"}],"mark":{"type":"rule","clip":false,"strokeWidth":1},"encoding":{"x":{"field":"a","type":"nominal","scale":{"type":"point","padding":0.5,"domain":["n","ns","p","ps"]},"axis":{"labels":false,"ticks":false,"title":"K","titlePadding":7,"titleFontSize":11}},"x2":{"field":"b"},"y":{"field":"y","type":"quantitative","scale":{"domain":[1.97,9.83],"nice":false,"zero":false},"axis":{"tickCount":40,"values":[3,4,5,6,7,8,9],"labelExpr":"format(datum.value,'~g')","labelOverlap":false,"tickSize":4,"labelPadding":2,"labelFontSize":10,"title":null}},"color":{"condition":{"test":"datum.c=='k'","value":"#444"},"value":"#9a9a9a"}}},
    {"data":{"name":"box"},"transform":[{"filter":"datum.p=='E2K'"}],"mark":{"type":"rule","color":"#555","strokeWidth":1},"encoding":{"x":{"field":"g","type":"nominal"},"y":{"field":"lo","type":"quantitative"},"y2":{"field":"hi"}}},
    {"data":{"name":"box"},"transform":[{"filter":"datum.p=='E2K'"}],"mark":{"type":"bar","width":12,"strokeWidth":1.2},"encoding":{"x":{"field":"g","type":"nominal"},"y":{"field":"q1","type":"quantitative"},"y2":{"field":"q3"},"fill":{"field":"g","type":"nominal","scale":{"domain":["n","ns","p","ps"],"range":["#3c3c3c","#ffffff","#e3202a","#ffffff"]}},"stroke":{"field":"g","type":"nominal","scale":{"domain":["n","ns","p","ps"],"range":["#2a2a2a","#2a2a2a","#cc1a20","#e3262c"]}}}},
    {"data":{"name":"box"},"transform":[{"filter":"datum.p=='E2K'"}],"mark":{"type":"tick","color":"#111","thickness":2,"size":12},"encoding":{"x":{"field":"g","type":"nominal"},"y":{"field":"md","type":"quantitative"}}},
    {"data":{"name":"out"},"transform":[{"filter":"datum.p=='E2K'"}],"mark":{"type":"point","shape":"cross","size":16,"filled":true,"color":"#333","opacity":1},"encoding":{"x":{"field":"g","type":"nominal"},"y":{"field":"v","type":"quantitative"}}},
    {"data":{"values":[{}]},"mark":{"type":"text","text":"GPe","fontSize":10.5,"align":"right","baseline":"bottom","dx":11,"dy":-1,"color":"#222"},"encoding":{"x":{"datum":"ps"},"y":{"datum":1.97}}}
   ]}
  ]}
 ]}
]}
]
}
